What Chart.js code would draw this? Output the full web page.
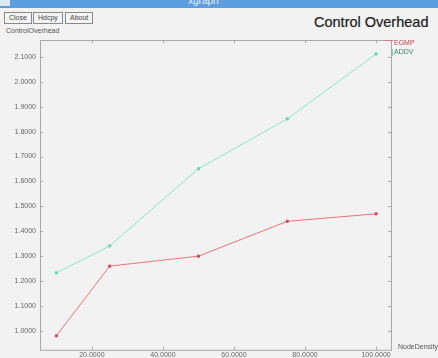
<!DOCTYPE html>
<html>
<head>
<meta charset="utf-8">
<script src="https://cdn.jsdelivr.net/npm/chart.js@4"></script>
<style>
  body { margin: 0; background: #f2f2f2; font-family: "Liberation Sans", Arial, sans-serif; }
  #wrap { position: relative; width: 438px; height: 358px; overflow: hidden; }
  #titlebar { position: absolute; left: 0; top: 0; width: 438px; height: 8px; background: #5a9ee0; }
  #titlebar span { position: absolute; left: 188px; top: -5px; color: #e8f1fb; font-size: 10px; }
  #titlebar .box { position: absolute; left: 0; top: 0; width: 10px; height: 6px; background: #dde8f5; }
  .btn { position: absolute; top: 12px; height: 10px; border: 1px solid #8a8a8a; background: #f4f4f4;
         font-size: 7px; line-height: 10px; color: #444; padding: 0 4px; }
  #ylabel { position: absolute; left: 6px; top: 27px; font-size: 7px; color: #555; }
  #title { position: absolute; left: 314px; top: 14px; font-size: 14.5px; color: #1a1a1a; -webkit-text-stroke: 0.2px #1a1a1a; }
  canvas { position: absolute; left: 0; top: 0; }
</style>
</head>
<body>
<div id="wrap">
  <div id="titlebar"><div class="box"></div><span>xgraph</span></div>
  <div class="btn" style="left:4px">Close</div>
  <div class="btn" style="left:33px">Hdcpy</div>
  <div class="btn" style="left:65px">About</div>
  <div id="ylabel">ControlOverhead</div>
  <div id="title">Control Overhead</div>
  <canvas id="chart" width="438" height="358"></canvas>
</div>
<script>
// node density values on the x axis
const densities = [10, 25, 50, 75, 100];
// control overhead per protocol
const egmpValues = [0.98, 1.26, 1.30, 1.44, 1.47];
const addvValues = [1.233, 1.341, 1.651, 1.851, 2.112];
const xTicks = [20, 40, 60, 80, 100];
const yTicks = [1.0, 1.1, 1.2, 1.3, 1.4, 1.5, 1.6, 1.7, 1.8, 1.9, 2.0, 2.1];

const toPoints = vals => vals.map((v, i) => ({ x: densities[i], y: v }));

// xgraph style frame: box, inward ticks, legend, axis name
const framePlugin = {
  id: "frame",
  afterDraw(chart) {
    const { ctx, chartArea: a, scales } = chart;
    ctx.save();
    ctx.strokeStyle = "#a8a8a8";
    ctx.lineWidth = 1;
    ctx.strokeRect(a.left + 0.5, a.top + 0.5, a.right - a.left, a.bottom - a.top);
    ctx.beginPath();
    xTicks.forEach(v => {
      const x = Math.round(scales.x.getPixelForValue(v)) + 0.5;
      ctx.moveTo(x, a.bottom); ctx.lineTo(x, a.bottom - 3);
      ctx.moveTo(x, a.top); ctx.lineTo(x, a.top + 3);
    });
    yTicks.forEach(v => {
      const y = Math.round(scales.y.getPixelForValue(v)) + 0.5;
      ctx.moveTo(a.left, y); ctx.lineTo(a.left + 3, y);
      ctx.moveTo(a.right, y); ctx.lineTo(a.right - 3, y);
    });
    ctx.stroke();

    // legend
    ctx.font = "7px 'Liberation Sans', Arial, sans-serif";
    ctx.textBaseline = "middle";
    ctx.strokeStyle = "#e8737a";
    ctx.beginPath(); ctx.moveTo(a.right - 6, a.top + 0.5); ctx.lineTo(a.right + 2, a.top + 0.5); ctx.stroke();
    ctx.fillStyle = "#c8404e";
    ctx.fillText("EGMP", a.right + 3, a.top + 3);
    ctx.strokeStyle = "#6fe0bb";
    ctx.beginPath(); ctx.moveTo(a.right + 1.5, a.top + 9); ctx.lineTo(a.right + 1.5, a.top + 16); ctx.stroke();
    ctx.fillStyle = "#3f7f6a";
    ctx.fillText("ADDV", a.right + 3, a.top + 12);

    ctx.fillStyle = "#555";
    ctx.fillText("NodeDensity", a.right + 7, a.bottom - 3);
    ctx.restore();
  }
};

new Chart(document.getElementById("chart"), {
  type: "line",
  data: {
    datasets: [
      {
        label: "EGMP",
        data: toPoints(egmpValues),
        borderColor: "#e8737a",
        backgroundColor: "#d84a5e",
        pointBorderColor: "#d84a5e",
        borderWidth: 1,
        pointStyle: "rect",
        pointRadius: 1.5
      },
      {
        label: "ADDV",
        data: toPoints(addvValues),
        borderColor: "#84e8c6",
        backgroundColor: "#5fdcb0",
        pointBorderColor: "#5fdcb0",
        borderWidth: 1,
        pointStyle: "rect",
        pointRadius: 1.5
      }
    ]
  },
  options: {
    responsive: false,
    animation: false,
    layout: { padding: { left: 0, right: 47, top: 40, bottom: 0 } },
    plugins: { legend: { display: false }, tooltip: { enabled: false } },
    scales: {
      x: {
        type: "linear",
        min: 5.4,
        max: 104.2,
        afterBuildTicks: s => { s.ticks = xTicks.map(v => ({ value: v })); },
        afterFit: s => { s.height = 8; },
        grid: { display: false, drawTicks: false },
        border: { display: false },
        ticks: {
          padding: 1,
          maxRotation: 0,
          color: "#666",
          font: { size: 7, family: "'Liberation Sans', Arial, sans-serif" },
          callback: v => v.toFixed(4)
        }
      },
      y: {
        min: 0.924,
        max: 2.168,
        afterBuildTicks: s => { s.ticks = yTicks.map(v => ({ value: v })); },
        afterFit: s => { s.width = 40; },
        grid: { display: false, drawTicks: false },
        border: { display: false },
        ticks: {
          padding: 4,
          color: "#666",
          font: { size: 7, family: "'Liberation Sans', Arial, sans-serif" },
          callback: v => v.toFixed(4)
        }
      }
    }
  },
  plugins: [framePlugin]
});
</script>
</body>
</html>
